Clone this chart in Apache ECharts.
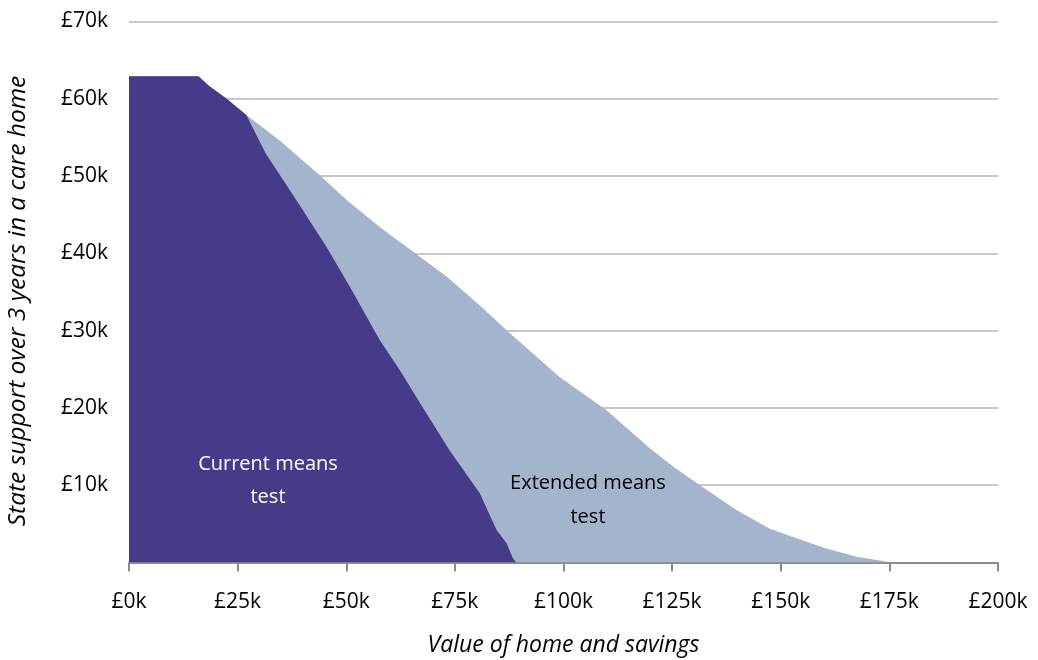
<!DOCTYPE html>
<html>
<head>
<meta charset="utf-8">
<script src="https://cdn.jsdelivr.net/npm/echarts@6/dist/echarts.min.js"></script>
<style>
  html, body { margin: 0; padding: 0; background: #fff; }
  #chart { width: 1038px; height: 660px; }
</style>
</head>
<body>
<div id="chart"></div>
<script>
// values in £k
const xTicks = [0, 25, 50, 75, 100, 125, 150, 175, 200]
const yTicks = [0, 10, 20, 30, 40, 50, 60, 70]

// current means test (dark area)
const currentX = [0, 16, 18.6, 22.5, 27, 31.5, 38.5, 45.4, 50.8, 57.7, 62.3, 66.9, 73.8, 80.7, 84.6, 86.9, 88.4, 89.2]
const currentY = [62.9, 62.9, 61.6, 60.0, 57.9, 52.9, 46.9, 40.9, 35.7, 28.8, 24.9, 20.7, 14.5, 9.0, 4.2, 2.5, 0.5, 0]

// extended means test (light area, sits behind the dark one)
const extendedX = [0, 16, 18.6, 22.5, 27, 34.7, 43.9, 50.1, 57.7, 65.4, 73.1, 80.7, 87.6, 99.1, 109.9, 119.8, 125.3, 131.4, 139.8, 147.4, 152.8, 160.5, 167.4, 173.5, 175]
const extendedY = [62.9, 62.9, 61.6, 60.0, 57.9, 54.6, 50.1, 46.9, 43.4, 40.2, 37.0, 33.3, 29.7, 24.0, 19.7, 14.8, 12.4, 10.0, 6.8, 4.4, 3.3, 1.8, 0.75, 0.2, 0]

const FONT = 'Open Sans'
const toPairs = (xs, ys) => xs.map((x, i) => [x, ys[i]])

const chart = echarts.init(document.getElementById('chart'))

chart.setOption({
  animation: false,
  textStyle: { fontFamily: FONT },
  grid: { left: 129, right: 40, top: 21.5, bottom: 97.5, outerBoundsMode: 'none' },
  xAxis: {
    type: 'value',
    min: xTicks[0],
    max: xTicks[xTicks.length - 1],
    interval: 25,
    name: 'Value of home and savings',
    nameLocation: 'middle',
    nameGap: 71,
    nameMoveOverlap: false,
    nameTextStyle: { fontFamily: FONT, fontStyle: 'italic', fontSize: 23, color: '#000' },
    axisLine: { show: true, lineStyle: { color: '#8c8c8c', width: 2 } },
    axisTick: { show: true, length: 9, lineStyle: { color: '#8c8c8c', width: 2 } },
    splitLine: { show: false },
    axisLabel: {
      margin: 29,
      fontSize: 21,
      color: '#000',
      fontFamily: FONT,
      formatter: v => '£' + v + 'k'
    }
  },
  yAxis: {
    type: 'value',
    min: yTicks[0],
    max: yTicks[yTicks.length - 1],
    interval: 10,
    axisLine: { show: false },
    axisTick: { show: false },
    splitLine: { lineStyle: { color: '#c8c8c8', width: 2 } },
    axisLabel: {
      margin: 21,
      fontSize: 21,
      color: '#000',
      fontFamily: FONT,
      formatter: v => (v === 0 ? '' : '£' + v + 'k')
    }
  },
  series: [
    {
      name: 'Extended means test',
      type: 'line',
      data: toPairs(extendedX, extendedY),
      symbol: 'none',
      lineStyle: { width: 0 },
      areaStyle: { color: '#a3b4cc', opacity: 1 },
      z: 2
    },
    {
      name: 'Current means test',
      type: 'line',
      data: toPairs(currentX, currentY),
      symbol: 'none',
      lineStyle: { width: 0 },
      areaStyle: { color: '#463b89', opacity: 1 },
      z: 3
    }
  ],
  graphic: [
    {
      // y axis title
      type: 'text',
      x: 18,
      y: 301,
      rotation: Math.PI / 2,
      style: {
        text: 'State support over 3 years in a care home',
        fill: '#000',
        font: 'italic 24.5px "Open Sans"',
        align: 'center',
        verticalAlign: 'middle'
      }
    },
    {
      type: 'text',
      x: 268,
      y: 481,
      z: 10,
      style: {
        text: 'Current means\ntest',
        fill: '#fff',
        font: '20px "Open Sans"',
        align: 'center',
        verticalAlign: 'middle',
        lineHeight: 33
      }
    },
    {
      type: 'text',
      x: 588,
      y: 500,
      z: 10,
      style: {
        text: 'Extended means\ntest',
        fill: '#000',
        font: '20px "Open Sans"',
        align: 'center',
        verticalAlign: 'middle',
        lineHeight: 34
      }
    }
  ]
})
</script>
</body>
</html>
